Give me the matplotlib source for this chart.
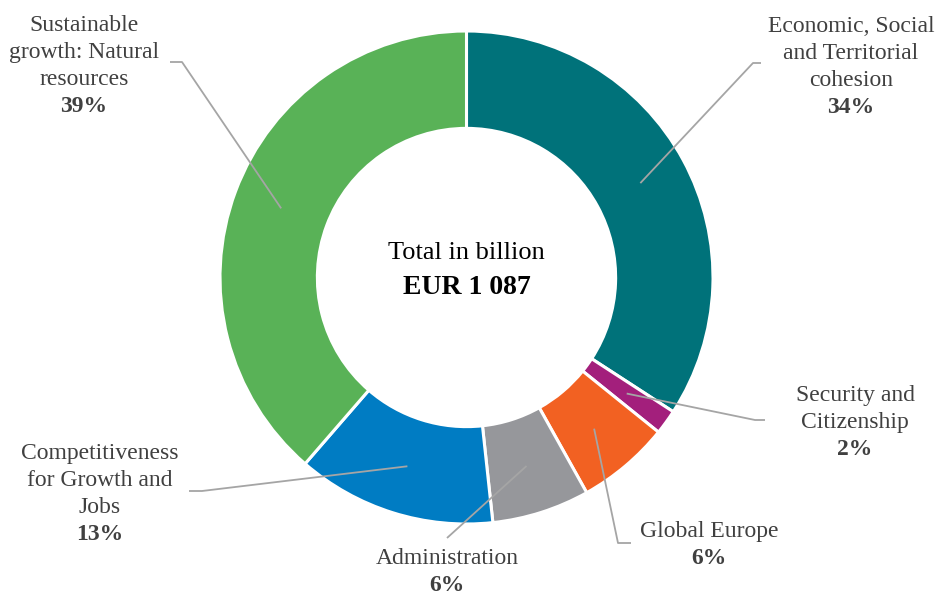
import matplotlib
matplotlib.use("Agg")
import matplotlib.pyplot as plt
import numpy as np

# ---- data ----
categories = [
    "Economic, Social\nand Territorial\ncohesion",
    "Security and\nCitizenship",
    "Global Europe",
    "Administration",
    "Competitiveness\nfor Growth and\nJobs",
    "Sustainable\ngrowth: Natural\nresources",
]
values = [371.4, 17.7, 66.3, 69.6, 142.1, 420.0]  # billion EUR
colors = ["#00727A", "#A31F7C", "#F26122", "#96979B", "#007CC3", "#59B257"]
center_title = "Total in billion"

# ---- layout (pixel coordinates, y downward) ----
W, H = 940, 595
cx, cy, R = 466.5, 277.5, 246.5
ring_w = R * 0.395
# label: (x centre, first baseline y, kink x, kink y, end x)
label_pos = [
    (851, 32, 753, 63, 761),
    (855, 401, 755, 420, 765),
    (709, 537, 618, 543, 631),
    (447, 564, 447, 538, 447),
    (100, 459, 202, 491, 189),
    (84, 31, 182, 62, 170),
]
line_h = 26.9
font = "Liberation Serif"
txt_col = "#404040"
lead_col = "#A5A5A5"

fig = plt.figure(figsize=(W / 100, H / 100), dpi=100)
ax = fig.add_axes([0, 0, 1, 1])

wedges, _ = ax.pie(
    values, colors=colors, startangle=90, counterclock=False,
    center=(cx, H - cy), radius=R,
    wedgeprops=dict(width=ring_w, edgecolor="white", linewidth=2.2),
)
ax.set_xlim(0, W)
ax.set_ylim(0, H)
ax.set_aspect("equal")
ax.axis("off")

total = sum(values)
r_mid = R - ring_w / 2
for w, name, v, (lx, ly, kx, ky, ex) in zip(wedges, categories, values, label_pos):
    mid = np.deg2rad((w.theta1 + w.theta2) / 2)
    axp = cx + r_mid * np.cos(mid)
    ayp = (H - cy) + r_mid * np.sin(mid)
    ax.plot([axp, kx, ex], [ayp, H - ky, H - ky], color=lead_col, lw=1.3,
            solid_capstyle="butt", zorder=3)
    lines = name.split("\n")
    for i, ln in enumerate(lines):
        ax.text(lx, H - (ly + i * line_h), ln, ha="center", va="baseline",
                fontsize=17, family=font, color=txt_col)
    pct = f"{round(v / total * 100):d}%"
    ax.text(lx, H - (ly + len(lines) * line_h), pct, ha="center", va="baseline",
            fontsize=17, family=font, color=txt_col, fontweight="bold")

total_str = f"EUR {int(round(total)):,}".replace(",", " ")
ax.text(cx, H - 259, center_title, ha="center", va="baseline", fontsize=19,
        family=font, color="black")
ax.text(cx, H - 294, total_str, ha="center", va="baseline", fontsize=20,
        family=font, color="black", fontweight="bold")

fig.savefig("out.png", dpi=100, facecolor="white")
